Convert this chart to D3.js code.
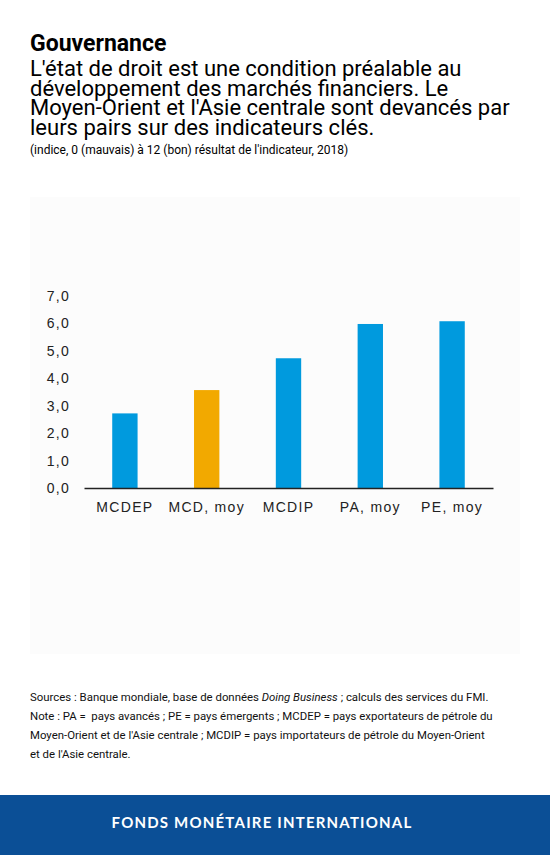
<!DOCTYPE html>
<meta charset="utf-8">
<head>
  <style>
    html, body { margin: 0; padding: 0; background: #fff; }
    svg { display: block; }
  </style>
  <script src="https://d3js.org/d3.v7.min.js"></script>
</head>
<body>
  <div id="my_dataviz"></div>
  <script>
    // Data
    const categories = ["MCDEP", "MCD, moy", "MCDIP", "PA, moy", "PE, moy"];
    const values = [2.72, 3.57, 4.73, 5.98, 6.08];
    const highlight = ["MCD, moy"];
    const yTicks = [0, 1, 2, 3, 4, 5, 6, 7];

    const titleText = "Gouvernance";
    const subtitleLines = [
      "L'état de droit est une condition préalable au",
      "développement des marchés financiers. Le",
      "Moyen-Orient et l'Asie centrale sont devancés par",
      "leurs pairs sur des indicateurs clés."
    ];
    const unitText = "(indice, 0 (mauvais) à 12 (bon) résultat de l'indicateur, 2018)";
    const footerLines = [
      [["Sources : Banque mondiale, base de données ", false], ["Doing Business", true], [" ; calculs des services du FMI.", false]],
      [["Note : PA =  pays avancés ; PE = pays émergents ; MCDEP = pays exportateurs de pétrole du", false]],
      [["Moyen-Orient et de l'Asie centrale ; MCDIP = pays importateurs de pétrole du Moyen-Orient", false]],
      [["et de l'Asie centrale.", false]]
    ];
    const brandText = "FONDS MONÉTAIRE INTERNATIONAL";

    const W = 550, H = 855;
    const svg = d3.select("#my_dataviz")
      .append("svg")
      .attr("width", W)
      .attr("height", H);

    // Title block
    svg.append("text")
      .attr("x", 30).attr("y", 51)
      .style("font-family", "Roboto, sans-serif")
      .style("font-weight", "bold")
      .style("font-size", "23px")
      .style("fill", "#000")
      .text(titleText);

    svg.append("g").selectAll("text")
      .data(subtitleLines)
      .join("text")
      .attr("x", 30)
      .attr("y", (d, i) => 76 + i * 19.5)
      .style("font-family", "Roboto, sans-serif")
      .style("font-size", "22px")
      .style("fill", "#000")
      .text(d => d);

    svg.append("text")
      .attr("x", 30).attr("y", 154)
      .style("font-family", "Roboto, sans-serif")
      .style("font-size", "12px")
      .style("fill", "#000")
      .text(unitText);

    // Chart panel
    svg.append("rect")
      .attr("x", 30).attr("y", 197)
      .attr("width", 490).attr("height", 457)
      .style("fill", "#fcfcfc");

    const margin = { left: 84, right: 493, zero: 488 };
    const x = d3.scaleBand()
      .domain(categories)
      .range([margin.left, margin.right])
      .paddingInner(0.69)
      .paddingOuter(0.345);

    const y = d3.scaleLinear()
      .domain([0, 7])
      .range([margin.zero, 296]);

    const labelStyle = g => g
      .style("font-family", "'Liberation Sans', Arial, sans-serif")
      .style("font-size", "14px")
      .style("letter-spacing", "1.3px")
      .style("fill", "#222");

    // Y axis (labels only)
    const yAxis = svg.append("g")
      .attr("transform", "translate(70,0)")
      .call(d3.axisLeft(y).tickValues(yTicks).tickSize(0).tickPadding(0)
        .tickFormat(d => d3.format(".1f")(d).replace(".", ",")));
    yAxis.select(".domain").remove();
    yAxis.selectAll("text").call(labelStyle);

    // Bars
    svg.append("g").selectAll("rect")
      .data(categories)
      .join("rect")
      .attr("x", d => x(d))
      .attr("y", (d, i) => y(values[i]))
      .attr("width", x.bandwidth())
      .attr("height", (d, i) => y(0) - y(values[i]))
      .style("fill", d => highlight.includes(d) ? "#f2a900" : "#009ade");

    // X axis
    const xAxis = svg.append("g")
      .attr("transform", `translate(0,${margin.zero})`)
      .call(d3.axisBottom(x).tickSize(0).tickPadding(14));
    xAxis.select(".domain").style("stroke", "#222").style("stroke-width", 1.5);
    xAxis.selectAll("text").call(labelStyle);

    // Notes
    const notes = svg.append("g");
    footerLines.forEach((line, i) => {
      const t = notes.append("text")
        .attr("x", 30)
        .attr("y", 701 + i * 19)
        .style("font-family", "Roboto, sans-serif")
        .style("font-size", "11.4px")
        .style("white-space", "pre")
        .style("fill", "#111");
      line.forEach(([s, it]) => {
        t.append("tspan").style("font-style", it ? "italic" : "normal").text(s);
      });
    });

    // Brand band
    svg.append("rect")
      .attr("x", 0).attr("y", 795)
      .attr("width", W).attr("height", H - 795)
      .style("fill", "#0b4f96");
    svg.append("text")
      .attr("x", 262).attr("y", 828)
      .attr("text-anchor", "middle")
      .style("font-family", "Lato, 'Open Sans', sans-serif")
      .style("font-weight", "bold")
      .style("font-size", "15px")
      .style("letter-spacing", "1.2px")
      .style("fill", "#fff")
      .text(brandText);
  </script>
</body>
